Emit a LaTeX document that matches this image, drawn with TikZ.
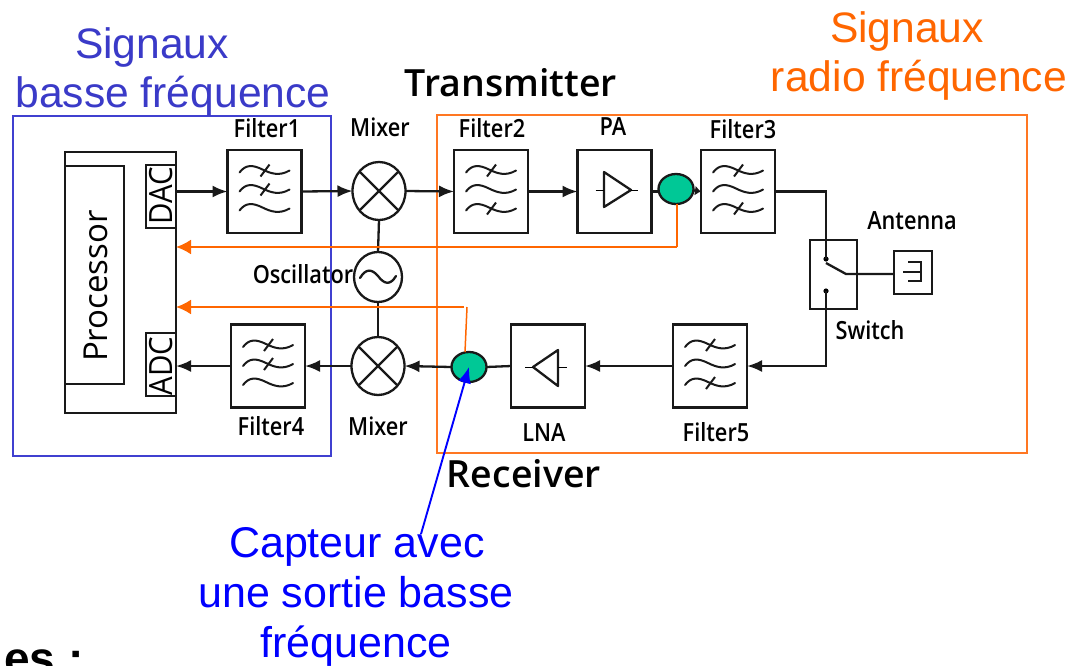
\documentclass[tikz,border=0pt]{standalone}
\usepackage{fontspec}
\setmainfont{Liberation Sans}
\newfontfamily\lab[FakeStretch=0.87]{Open Sans Semibold}
\newfontfamily\labreg{Open Sans}
\newfontfamily\labnarrow[FakeStretch=0.92]{Open Sans}
\newfontfamily\labbold{Open Sans Semibold}
\usetikzlibrary{arrows.meta,shapes.geometric}
\definecolor{bluerect}{HTML}{4040D0}
\definecolor{bluetext}{HTML}{3A3AC8}
\definecolor{orgtext}{HTML}{FF6600}
\definecolor{orgrect}{HTML}{FF7722}
\definecolor{greenfill}{HTML}{00C896}
\tikzset{
  x=1pt,y=-1pt,
  blk/.style={line width=2.3pt,draw=black!90},
  unit/.style={blk,rectangle,inner sep=0,outer sep=0,minimum width=74pt,minimum height=83pt},
  mixer/.style={blk,ellipse,inner sep=0,outer sep=0,minimum width=53pt,minimum height=58pt},
  osc/.style={blk,ellipse,inner sep=0,outer sep=0,minimum width=48pt,minimum height=50pt},
  sensor/.style={blk,ellipse,fill=greenfill,inner sep=0,outer sep=0,minimum width=35pt,minimum height=30pt},
  conv/.style={blk,rectangle,inner sep=0,outer sep=0,minimum width=30pt,minimum height=63pt},
  conn/.style={blk},
  arr/.style={blk,-{Latex[length=15pt,width=12pt]}},
  shortarr/.style={blk,-{Latex[length=6pt,width=10pt]}},
  orgarr/.style={line width=2.2pt,draw=orgtext,-{Latex[length=15pt,width=15pt]}},
  org/.style={line width=2.2pt,draw=orgtext},
  lbl/.style={anchor=base,inner sep=0,font=\fontsize{25}{25}\lab,text=black},
  big/.style={anchor=base,inner sep=0,font=\fontsize{37.5}{37.5}\labbold,text=black},
  huge/.style={anchor=base,inner sep=0,font=\fontsize{42.6}{42.6}\selectfont},
  sens/.style={anchor=base,inner sep=0,font=\fontsize{43}{43}\selectfont,text=blue},
}
\newcommand{\onewave}[2]{%
  \draw[line width=2pt,black!90,line cap=round] (-25,#1+2) .. controls (-19,#1-6) and (-12,#1-6) .. (-2,#1-1) .. controls (6,#1+3) and (15,#1+6) .. (25,#1+0);
  \ifnum#2=1 \draw[line width=2pt,black!90] (-4,#1+6) -- (5,#1-6);\fi}
\newcommand{\waves}[4]{%
  \begin{scope}[shift={(#1.center)}]
    \onewave{-21}{#2}\onewave{-2}{#3}\onewave{17}{#4}
  \end{scope}}
\begin{document}
\begin{tikzpicture}
\clip (0,0) rectangle (1070,665);
\fill[white] (0,0) rectangle (1070,665);
% frames
\node[draw=bluerect,line width=1.9pt,inner sep=0,minimum width=318pt,minimum height=340pt] (lowframe) at (172,286) {};
\node[draw=orgrect,line width=1.9pt,inner sep=0,minimum width=590pt,minimum height=338pt] (rfframe) at (732,284) {};
% processor
\node[blk,rectangle,inner sep=0,outer sep=0,minimum width=111pt,minimum height=261pt] (proc) at (120.5,282.5) {};
\node[blk,rectangle,inner sep=0,outer sep=0,minimum width=59pt,minimum height=218pt] (core) at (94.5,275) {};
\node[rotate=90,inner sep=0,font=\fontsize{33}{33}\labreg] (proctext) at (96,286) {Processor};
\node[conv] (dac) at (161,196.5) {};
\node[conv] (adc) at (161,364.5) {};
\node[rotate=90,inner sep=0,font=\fontsize{32}{32}\labnarrow] (dactext) at (161,196) {DAC};
\node[rotate=90,inner sep=0,font=\fontsize{32}{32}\labnarrow] (adctext) at (161,366) {ADC};
% units
\node[unit] (f1) at (264.5,191.5) {};
\node[unit] (f2) at (491,191.5) {};
\node[unit] (pa) at (614.5,191.5) {};
\node[unit] (f3) at (738,191.5) {};
\node[unit] (f4) at (268,366) {};
\node[unit] (lna) at (548,366) {};
\node[unit] (f5) at (710,366) {};
\waves{f1}{1}{1}{0}
\waves{f2}{1}{0}{1}
\waves{f3}{1}{0}{1}
\waves{f4}{1}{1}{0}
\waves{f5}{1}{0}{1}
\node[mixer] (m1) at (379,191) {};
\node[mixer] (m2) at (378,366) {};
\node[osc] (os) at (378,277) {};
\draw[blk] (m1.45) -- (m1.225) (m1.135) -- (m1.315);
\draw[blk] (m2.45) -- (m2.225) (m2.135) -- (m2.315);
\begin{scope}[shift={(os.center)}]
  \draw[blk,line cap=round] (-18,1) .. controls (-12,-9) and (-6,-8) .. (0,-1) .. controls (6,7) and (12,9) .. (18,-1);
\end{scope}
% amplifiers
\begin{scope}[shift={(pa.center)}]
  \draw[blk,line join=round] (-10.5,-19.5) -- (16.5,-1.5) -- (-10.5,15.5) -- cycle;
  \draw[line width=1pt] (-19,-1.5) -- (-10.5,-1.5) (16.5,-1.5) -- (23,-1.5);
\end{scope}
\begin{scope}[shift={(lna.center)}]
  \draw[blk,line join=round] (10,-16) -- (-15,1) -- (10,20) -- cycle;
  \draw[line width=1pt] (-23,1) -- (-15,1) (10,1) -- (19,1);
\end{scope}
% sensors
\draw[shortarr] (694,190.5) -- (f3.west);
\node[sensor] (s1) at (676,189) {};
\node[sensor] (s2) at (469,367) {};
% switch and antenna
\node[blk,rectangle,inner sep=0,outer sep=0,minimum width=47pt,minimum height=69pt] (sw) at (833.5,274.5) {};
\node[blk,rectangle,inner sep=0,outer sep=0,minimum width=38pt,minimum height=43pt] (ant) at (913,272.5) {};
\coordinate (swa) at (826,259);
\coordinate (swb) at (826,291);
\coordinate (arm) at (846,274);
\fill[black] (swa) circle (2.6pt) (swb) circle (2.6pt);
\draw[blk] (f3.east) -- (f3.east -| swa) -- (swa);
\draw[blk] (826,263) -- (arm) -- (arm -| ant.west);
\draw[blk] (908,262) -- (921,262) -- (921,281) -- (908,281) (903,272) -- (921,272);
% connectors
\draw[arr] (proc.east |- f1.west) -- (f1.west);
\draw[arr] (f1.east) -- (m1.west);
\draw[arr] (m1.east) -- (f2.west);
\draw[arr] (f2.east) -- (pa.west);
\draw[conn] (pa.east) -- (pa.east -| s1.west);
\draw[conn] (m1.south) -- (os.north);
\draw[conn] (os.south) -- (m2.north);
\draw[arr] (swb) -- (swb |- f5.east) -- (f5.east);
\draw[arr] (f5.west) -- (lna.east);
\draw[conn] (lna.west) -- (s2.east);
\draw[arr] (s2.west) -- (m2.east);
\draw[arr] (m2.west) -- (f4.east);
\draw[arr] (f4.west) -- (f4.west -| proc.east);
% orange feedback
\coordinate (fb1) at (677,247);
\coordinate (fb2a) at (464,307);
\coordinate (fb2b) at (467,307);
\draw[org] (s1.south -| fb1) -- (fb1);
\draw[orgarr] (fb1) -- (fb1 -| proc.east);
\draw[orgarr] (fb2a) -- (fb2a -| proc.east);
\draw[line width=1.5pt,draw=orgtext] (fb2b) -- (465,352);
% labels
\node[lbl] (l1) at (267,137) {Filter1};
\node[lbl] (l2) at (380,136) {Mixer};
\node[lbl] (l3) at (492,137) {Filter2};
\node[lbl] (l4) at (613,135) {PA};
\node[lbl] (l5) at (743,138) {Filter3};
\node[lbl] (l6) at (912,229) {Antenna};
\node[lbl] (l7) at (870,339) {Switch};
\node[lbl] (l8) at (303,283) {Oscillator};
\node[lbl] (l9) at (271,435) {Filter4};
\node[lbl] (l10) at (378,435) {Mixer};
\node[lbl] (l11) at (544,441) {LNA};
\node[lbl] (l12) at (716,441) {Filter5};
\node[big] (tx) at (511,96) {Transmitter};
\node[big] (rx) at (524,487) {Receiver};
\node[huge,text=bluetext] (h1) at (152,58) {Signaux};
\node[huge,text=bluetext] (h2) at (173,107) {basse fréquence};
\node[huge,text=orgtext] (h3) at (907,42) {Signaux};
\node[huge,text=orgtext] (h4) at (919,91) {radio fréquence};
\node[sens] (c1) at (357,557) {Capteur avec};
\node[sens] (c2) at (356,607) {une sortie basse};
\node[sens] (c3) at (356,657) {fréquence};
\node[anchor=base west,inner sep=0,font=\fontsize{46}{46}\bfseries] (tail) at (4,674) {es :};
\coordinate (capt) at (421,534);
\draw[line width=1.9pt,blue,-{Latex[length=16pt,width=13pt]}] (capt) -- (s2.center);
\end{tikzpicture}
\end{document}
